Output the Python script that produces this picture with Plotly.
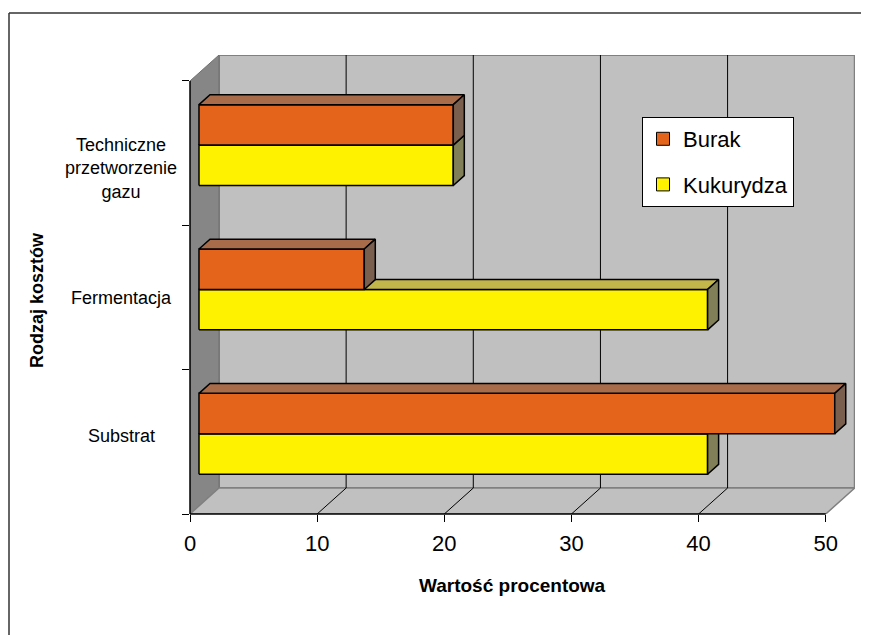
import plotly.graph_objects as go

# ---------------- data ----------------
categories = ["Substrat", "Fermentacja", "Techniczne<br>przetworzenie<br>gazu"]
burak = [50, 13, 20]
kukurydza = [40, 40, 20]
x_ticks = [0, 10, 20, 30, 40, 50]
series_names = ["Burak", "Kukurydza"]
x_title = "Wartość procentowa"
y_title = "Rodzaj kosztów"

# ---------------- style ----------------
OFF = 8                      # page body margin of the html page
W, H = 869 - OFF, 635 - OFF
ML, MT = 190 - OFF, 55 - OFF
MR = W - (855 - OFF)
MB = H - (514 - OFF)
PW, PH = W - ML - MR, H - MT - MB
FONT = "Liberation Sans, Arial, sans-serif"

XMAX = max(x_ticks)
NCAT = len(categories)
DX = 2.28          # depth offset in value units
DY = 0.18          # depth offset in category units
F1, F2 = 0.31, 0.69  # bar depth (front / back fraction)
BAR_H = 0.28

colors = {
    "Burak": dict(front="#E3641A", top="#A86C4A", side="#7A5E4E"),
    "Kukurydza": dict(front="#FFF200", top="#C2B54A", side="#807F58"),
}
label_yshift = [6, -1, -15]


def px_x(p):
    return (p - OFF - ML) / PW


def px_y(p):
    return (H - MB - (p - OFF)) / PH


fig = go.Figure()


def poly(xs, ys, fill, line="black", lw=1.5):
    fig.add_trace(go.Scatter(
        x=list(xs) + [xs[0]], y=list(ys) + [ys[0]], mode="lines",
        fill="toself", fillcolor=fill, line=dict(color=line, width=lw),
        hoverinfo="skip", showlegend=False))


def seg(x0, y0, x1, y1, color="black", lw=1):
    fig.add_trace(go.Scatter(x=[x0, x1], y=[y0, y1], mode="lines",
                             line=dict(color=color, width=lw),
                             hoverinfo="skip", showlegend=False))


# walls
poly([DX, XMAX + DX, XMAX + DX, DX], [DY, DY, NCAT + DY, NCAT + DY], "#C0C0C0", "#808080", 2)
poly([0, DX, DX, 0], [0, DY, NCAT + DY, NCAT], "#868686", "#707070", 1)
poly([0, XMAX, XMAX + DX, DX], [0, 0, DY, DY], "#C0C0C0", "#808080", 1.5)
for t in x_ticks[1:-1]:
    seg(t + DX, DY, t + DX, NCAT + DY)
    seg(t, 0, t + DX, DY)

# bars
ox, oy = F1 * DX, F1 * DY
bx, by = F2 * DX, F2 * DY


def bar3d(v, yb, yt, c):
    poly([ox, ox + v, ox + v, ox], [oy + yb, oy + yb, oy + yt, oy + yt], c["front"])
    poly([ox, ox + v, bx + v, bx], [oy + yt, oy + yt, by + yt, by + yt], c["top"])
    poly([ox + v, bx + v, bx + v, ox + v], [oy + yb, by + yb, by + yt, oy + yt], c["side"])


for i in range(NCAT):
    c = i + 0.5
    bar3d(kukurydza[i], c - BAR_H, c, colors["Kukurydza"])
    bar3d(burak[i], c, c + BAR_H, colors["Burak"])

# legend dummies
for k, name in enumerate(series_names):
    fig.add_trace(go.Scatter(
        x=[None], y=[None], mode="markers", name=name, legendgroup=name,
        marker=dict(symbol="square", size=13, color=colors[name]["front"],
                    line=dict(color="black", width=1))))

shapes = [
    # axis lines
    dict(type="line", xref="x", yref="paper", x0=0, x1=XMAX, y0=0, y1=0,
         line=dict(color="black", width=1.5)),
    dict(type="line", xref="paper", yref="y", x0=0, x1=0, y0=0, y1=NCAT,
         line=dict(color="black", width=1.5)),
    # outer border (top and left edges; the rest lies outside the picture)
    dict(type="line", xref="paper", yref="paper", x0=px_x(9), x1=px_x(900),
         y0=px_y(13), y1=px_y(13), line=dict(color="#333333", width=1.5)),
    dict(type="line", xref="paper", yref="paper", x0=px_x(9), x1=px_x(9),
         y0=px_y(13), y1=px_y(700), line=dict(color="#333333", width=1.5)),
]

annotations = []
for i, cat in enumerate(categories):
    annotations.append(dict(
        xref="paper", yref="y", x=px_x(121), y=i + 0.5, text=cat,
        showarrow=False, xanchor="center", yanchor="middle", align="center",
        yshift=label_yshift[i], font=dict(family=FONT, size=18, color="black")))
annotations.append(dict(
    xref="paper", yref="paper", x=px_x(512), y=px_y(585), text="<b>%s</b>" % x_title,
    showarrow=False, xanchor="center", yanchor="middle",
    font=dict(family=FONT, size=19, color="black")))
annotations.append(dict(
    xref="paper", yref="paper", x=px_x(37), y=px_y(300), text="<b>%s</b>" % y_title,
    showarrow=False, xanchor="center", yanchor="middle", textangle=-90,
    font=dict(family=FONT, size=18, color="black")))

fig.update_layout(
    width=W, height=H,
    margin=dict(l=ML, r=MR, t=MT, b=MB, pad=0),
    paper_bgcolor="white", plot_bgcolor="white",
    showlegend=True,
    legend=dict(x=px_x(642), y=px_y(117), xanchor="left", yanchor="top",
                bgcolor="white", bordercolor="black", borderwidth=1,
                font=dict(family=FONT, size=22, color="black"),
                tracegroupgap=14, traceorder="grouped", itemwidth=30),
    xaxis=dict(range=[0, XMAX + DX + 0.02], tickvals=x_ticks, ticks="outside",
               ticklen=7, tickcolor="black", showgrid=False, zeroline=False,
               showline=False, fixedrange=True, ticklabelstandoff=3,
               tickfont=dict(family=FONT, size=22, color="black")),
    yaxis=dict(range=[0, NCAT + DY], tickvals=list(range(NCAT + 1)),
               ticks="outside", ticklen=7, tickcolor="black", showticklabels=False,
               showgrid=False, zeroline=False, showline=False, fixedrange=True),
    shapes=shapes, annotations=annotations,
)

fig.write_html("out.html")
